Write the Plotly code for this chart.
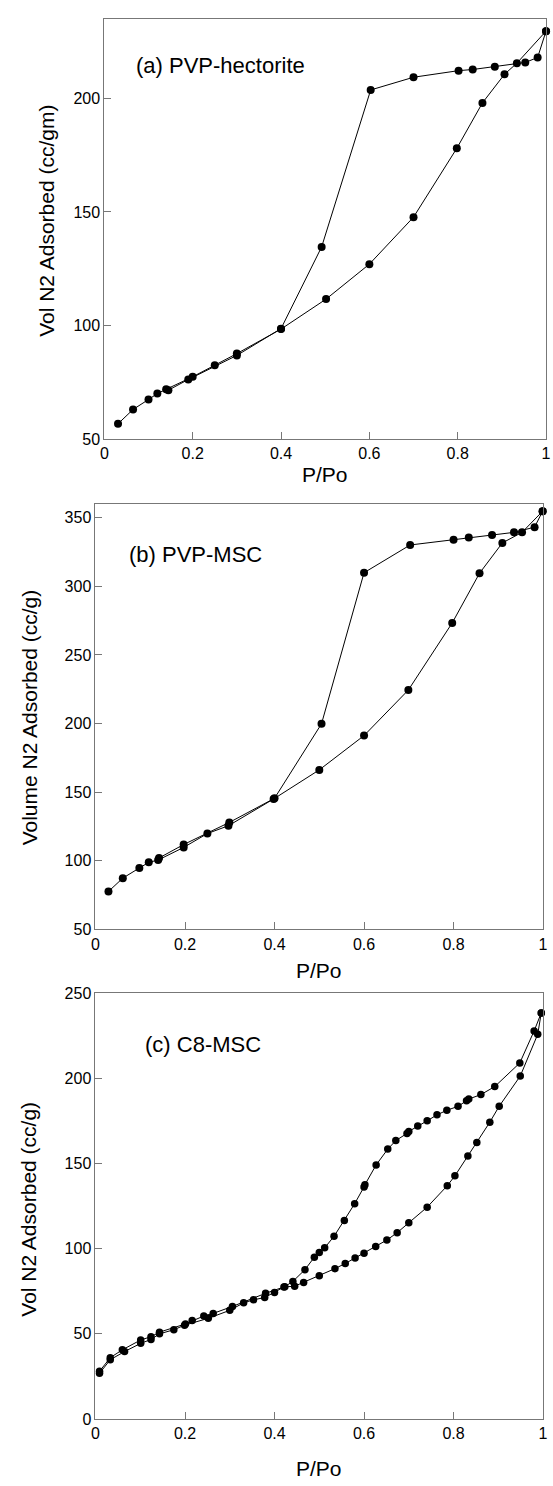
import plotly.graph_objects as go

W, H = 553, 1486

# ---------------- data ----------------
# (a) PVP-hectorite
a_ads_x = [0.031, 0.065, 0.10, 0.12, 0.14, 0.20, 0.25, 0.30, 0.40, 0.502, 0.60, 0.70, 0.798, 0.856, 0.906, 0.934, 1.0]
a_ads_y = [56.7, 63.0, 67.4, 70.0, 71.9, 77.4, 82.5, 87.6, 98.4, 111.6, 127.0, 147.7, 178.0, 198.0, 210.6, 215.5, 229.6]
a_des_x = [1.0, 0.981, 0.953, 0.884, 0.834, 0.802, 0.70, 0.603, 0.492, 0.40, 0.30, 0.19, 0.145]
a_des_y = [229.6, 218.0, 215.8, 213.9, 212.7, 212.2, 209.3, 203.7, 134.6, 98.6, 86.8, 76.2, 71.5]

# (b) PVP-MSC
b_ads_x = [0.029, 0.061, 0.098, 0.119, 0.14, 0.197, 0.25, 0.297, 0.398, 0.50, 0.60, 0.699, 0.797, 0.858, 0.909, 0.953, 0.999]
b_ads_y = [77.6, 87.3, 94.7, 98.8, 100.5, 109.7, 119.8, 125.5, 145.0, 166.2, 191.2, 224.4, 273.3, 309.5, 331.6, 339.3, 354.7]
b_des_x = [0.999, 0.981, 0.935, 0.886, 0.834, 0.80, 0.703, 0.60, 0.505, 0.40, 0.299, 0.197, 0.142]
b_des_y = [354.7, 343.1, 339.3, 337.4, 335.5, 334.0, 330.1, 309.9, 199.8, 145.5, 127.9, 111.8, 102.0]

# (c) C8-MSC
c_ads_x = [0.009, 0.033, 0.065, 0.101, 0.124, 0.143, 0.175, 0.199, 0.252, 0.30, 0.331, 0.353, 0.378,
           0.40, 0.421, 0.445, 0.465, 0.50, 0.535, 0.558, 0.58, 0.60, 0.626, 0.651, 0.674, 0.70,
           0.741, 0.786, 0.803, 0.832, 0.852, 0.881, 0.902, 0.949, 0.988, 0.996]
c_ads_y = [26.8, 34.8, 39.6, 44.4, 46.7, 50.0, 52.4, 55.1, 59.1, 63.8, 68.2, 70.0, 71.3,
           74.3, 77.5, 78.0, 80.2, 84.1, 88.3, 91.3, 94.5, 97.4, 101.3, 105.1, 109.4, 115.2,
           124.4, 137.0, 142.8, 154.5, 162.4, 174.3, 183.7, 201.4, 225.9, 238.5]
c_des_x = [0.996, 0.98, 0.948, 0.892, 0.861, 0.834, 0.829, 0.81, 0.785, 0.763, 0.741, 0.72, 0.70,
           0.696, 0.671, 0.653, 0.627, 0.602, 0.60, 0.579, 0.556, 0.533, 0.512, 0.50, 0.489, 0.468,
           0.441, 0.423, 0.38, 0.306, 0.263, 0.242, 0.216, 0.201, 0.143, 0.124, 0.101, 0.06, 0.033, 0.009]
c_des_y = [238.5, 227.9, 209.1, 195.2, 190.5, 187.9, 186.9, 183.6, 181.3, 178.6, 175.1, 172.0, 168.9,
           167.7, 163.5, 158.5, 149.2, 137.6, 136.3, 126.4, 116.6, 107.3, 100.5, 97.8, 95.0, 87.7,
           80.8, 77.7, 73.8, 66.1, 62.0, 60.5, 57.8, 55.8, 51.0, 48.3, 46.4, 40.6, 36.0, 28.0]

x_ticks = [0, 0.2, 0.4, 0.6, 0.8, 1]
x_ticklabels = ["0", "0.2", "0.4", "0.6", "0.8", "1"]
a_yticks = [50, 100, 150, 200]
b_yticks = [50, 100, 150, 200, 250, 300, 350]
c_yticks = [0, 50, 100, 150, 200, 250]

panel_labels = ["(a) PVP-hectorite", "(b) PVP-MSC", "(c) C8-MSC"]
y_titles = ["Vol N2 Adsorbed (cc/gm)", "Volume N2 Adsorbed (cc/g)", "Vol N2 Adsorbed (cc/g)"]
x_title = "P/Po"

# ---------------- layout geometry (pixels) ----------------
FONT = "Liberation Sans, Arial, Helvetica, sans-serif"
panels = [
    dict(l=102, r=551, t=11, b=436, yr=[50, 235], yt=a_yticks),
    dict(l=93, r=548, t=501.7, b=932, yr=[50, 360], yt=b_yticks),
    dict(l=93, r=548, t=996.7, b=1427.3, yr=[0, 250], yt=c_yticks),
]

def px(x):
    return x / W

def py(y):
    return 1 - y / H

fig = go.Figure()
series = [(a_ads_x, a_ads_y, a_des_x, a_des_y),
          (b_ads_x, b_ads_y, b_des_x, b_des_y),
          (c_ads_x, c_ads_y, c_des_x, c_des_y)]
msize = [8, 8, 7.5]
for i, (ax_, ay_, dx_, dy_) in enumerate(series):
    suffix = "" if i == 0 else str(i + 1)
    for xs, ys in [(ax_, ay_), (dx_, dy_)]:
        fig.add_trace(go.Scatter(
            x=xs, y=ys, mode="lines+markers",
            line=dict(color="black", width=1),
            marker=dict(color="black", size=msize[i]),
            cliponaxis=False, showlegend=False,
            xaxis="x" + suffix, yaxis="y" + suffix))

layout = dict(width=W, height=H, margin=dict(l=0, r=0, t=0, b=0),
              paper_bgcolor="white", plot_bgcolor="white",
              font=dict(family=FONT, color="black", size=16), showlegend=False)
ann = []
xtitle_y = [472, 974, 1477]
ytitle_x = [43, 26, 24]
ytitle_y = [215, 718, 1215]
lab_pos = [(132, 58.5), (125, 552.5), (141, 1048)]
for i, p in enumerate(panels):
    suffix = "" if i == 0 else str(i + 1)
    axis_common = dict(showline=True, linecolor="#777777", linewidth=1, mirror=True,
                       ticks="inside", ticklen=7, tickcolor="#777777", tickwidth=1,
                       showgrid=False, zeroline=False,
                       tickfont=dict(family=FONT, size=16, color="black"))
    layout["xaxis" + suffix] = dict(domain=[px(p["l"]), px(p["r"])], range=[0, 1],
                                    tickvals=x_ticks, ticktext=x_ticklabels,
                                    anchor="y" + suffix, **axis_common)
    layout["yaxis" + suffix] = dict(domain=[py(p["b"]), py(p["t"])], range=p["yr"],
                                    tickvals=p["yt"], ticktext=[str(v) for v in p["yt"]],
                                    anchor="x" + suffix, **axis_common)
    ann.append(dict(text=x_title, xref="paper", yref="paper",
                    x=px((p["l"] + p["r"]) / 2), y=py(xtitle_y[i]),
                    xanchor="center", yanchor="middle", showarrow=False,
                    font=dict(family=FONT, size=21, color="black")))
    ann.append(dict(text=y_titles[i], xref="paper", yref="paper",
                    x=px(ytitle_x[i]), y=py(ytitle_y[i]), textangle=-90,
                    xanchor="center", yanchor="middle", showarrow=False,
                    font=dict(family=FONT, size=21, color="black")))
    ann.append(dict(text=panel_labels[i], xref="paper", yref="paper",
                    x=px(lab_pos[i][0]), y=py(lab_pos[i][1]),
                    xanchor="left", yanchor="middle", showarrow=False,
                    font=dict(family=FONT, size=22, color="black")))
layout["annotations"] = ann
fig.update_layout(**layout)
fig.write_html("out.html", config={"displayModeBar": False},
               post_script="document.body.style.margin='0';document.body.style.padding='0';"
                           "document.documentElement.style.overflow='hidden';")
